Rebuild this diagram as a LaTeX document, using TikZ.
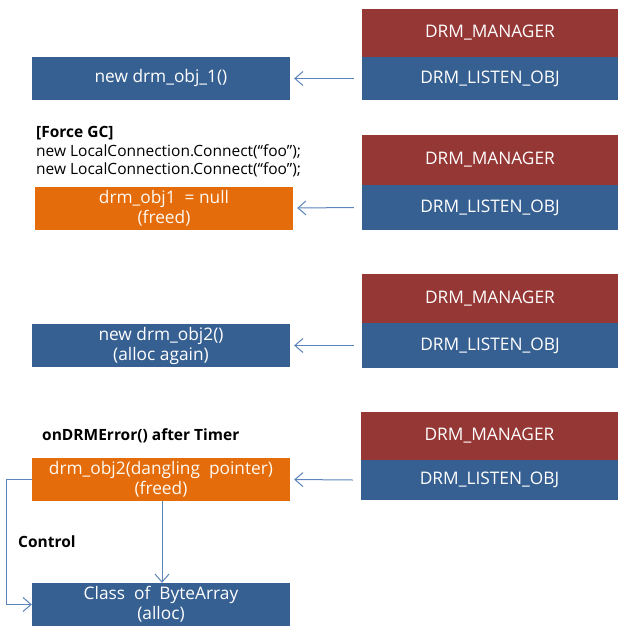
\documentclass[tikz,border=0pt]{standalone}
\usepackage{fontspec}
\setmainfont{Open Sans}
\usetikzlibrary{arrows.meta}
\definecolor{mred}{HTML}{953735}
\definecolor{mblue}{HTML}{376092}
\definecolor{morange}{HTML}{E46C0A}
\definecolor{marrow}{HTML}{5B84B8}
\tikzset{
  box/.style={rectangle, inner sep=0pt, text=white, font=\fontsize{17.3}{20}\selectfont, align=center},
  rbox/.style={box, fill=mred, minimum width=256pt},
  bbox/.style={box, fill=mblue, minimum width=256pt},
  lbox/.style={box, fill=mblue, minimum width=258pt, minimum height=43pt},
  obox/.style={box, fill=morange, text=white!95!orange, minimum width=258pt, minimum height=43pt},
  lbl/.style={anchor=west, inner sep=0pt, font=\fontsize{15.5}{18}\selectfont, align=left},
  conn/.style={draw=marrow, line width=1pt, -{Straight Barb[length=8pt,width=14pt,line width=1pt]}}
}
\begin{document}
\begin{tikzpicture}[x=1pt,y=-1pt]
\useasboundingbox (0,0) rectangle (629,633);
% block 1
\node[rbox, minimum height=49pt] (m1) at (490,33) {DRM\_MANAGER};
\node[bbox, minimum height=43pt] (l1) at (490,78.5) {DRM\_LISTEN\_OBJ};
\node[lbox] (o1) at (161,78.5) {new drm\_obj\_1()};
\draw[conn] (l1.west) ++(-8,0) -- ([xshift=4pt]o1.east);
% block 2
\node[lbl] (t2) at (36,133) {\textbf{[Force GC]}};
\node[lbl] (t2a) at (36,152) {new LocalConnection.Connect(“foo”);};
\node[lbl] (t2b) at (36,170) {new LocalConnection.Connect(“foo”);};
\node[rbox, minimum height=50pt] (m2) at (490,160) {DRM\_MANAGER};
\node[bbox, minimum height=45pt] (l2) at (490,207.5) {DRM\_LISTEN\_OBJ};
\node[obox, minimum width=258pt] (o2) at (164,208) {drm\_obj1 \ = null\\(freed)};
\draw[conn] (l2.west) ++(-8,0) -- ([xshift=4pt]o2.east);
% block 3
\node[rbox, minimum height=49pt] (m3) at (490,298.5) {DRM\_MANAGER};
\node[bbox, minimum height=45pt] (l3) at (490,345.5) {DRM\_LISTEN\_OBJ};
\node[lbox] (o3) at (161,345.5) {new drm\_obj2()\\(alloc again)};
\draw[conn] (l3.west) ++(-8,0) -- ([xshift=4pt]o3.east);
% block 4
\node[lbl] (t4) at (42,436) {\textbf{onDRMError() after Timer}};
\node[rbox, minimum height=48pt, minimum width=257pt] (m4) at (489.5,436) {DRM\_MANAGER};
\node[bbox, minimum height=40pt, minimum width=257pt] (l4) at (489.5,480) {DRM\_LISTEN\_OBJ};
\node[obox] (o4) at (161,479.5) {drm\_obj2(dangling \ pointer)\\(freed)};
\draw[conn] (l4.west) ++(-8,0) -- ([xshift=4pt]o4.east);
\node[lbox] (ba) at (161,604.5) {Class \ of \ ByteArray\\(alloc)};
\node[lbl] (ctl) at (18,542) {\textbf{Control}};
\draw[conn] (o4.south) ++(1,0) -- ([xshift=1pt]ba.north);
\draw[conn] (o4.west) -- ++(-25,0) |- (ba.west);
\end{tikzpicture}
\end{document}
